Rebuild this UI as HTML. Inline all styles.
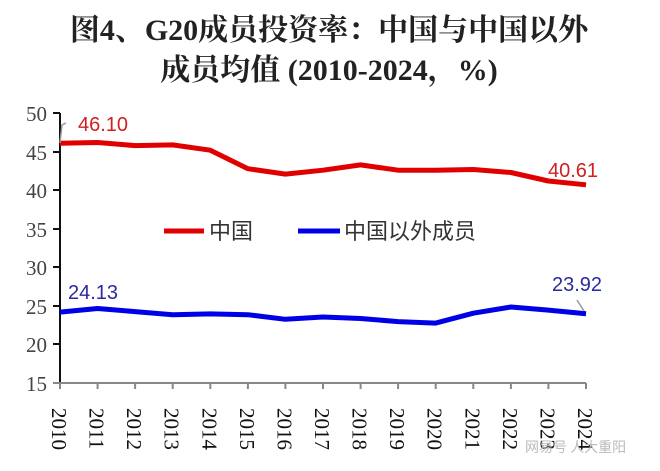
<!DOCTYPE html>
<html><head><meta charset="utf-8"><style>
body{margin:0;background:#fff;width:660px;height:466px;overflow:hidden}
</style></head><body>
<svg width="660" height="466" xmlns="http://www.w3.org/2000/svg">
<text x="329" y="40" text-anchor="middle" font-family="Liberation Serif, Noto Serif CJK SC, serif" font-weight="bold" font-size="30" fill="#222">图4、G20成员投资率：中国与中国以外</text>
<text x="329" y="80" text-anchor="middle" font-family="Liberation Serif, Noto Serif CJK SC, serif" font-weight="bold" font-size="30" fill="#222">成员均值 (2010-2024，%)</text>
<g font-family="Liberation Serif, serif" font-size="21" fill="#444" text-anchor="end">
<text x="47" y="121">50</text><text x="47" y="160">45</text><text x="47" y="198">40</text><text x="47" y="237">35</text><text x="47" y="275">30</text><text x="47" y="314">25</text><text x="47" y="352">20</text><text x="47" y="391">15</text>
</g>
<g stroke="#111" stroke-width="2" fill="none">
<line x1="60" y1="113" x2="60" y2="383"/>
<line x1="53" y1="113" x2="60" y2="113"/><line x1="53" y1="152" x2="60" y2="152"/><line x1="53" y1="190" x2="60" y2="190"/><line x1="53" y1="229" x2="60" y2="229"/><line x1="53" y1="267" x2="60" y2="267"/><line x1="53" y1="306" x2="60" y2="306"/><line x1="53" y1="344" x2="60" y2="344"/>
</g>
<line x1="53" y1="383" x2="586" y2="383" stroke="#888" stroke-width="2"/>
<path stroke="#888" stroke-width="2" d="M60 383v6M97.6 383v6M135.1 383v6M172.7 383v6M210.3 383v6M247.9 383v6M285.4 383v6M323 383v6M360.6 383v6M398.1 383v6M435.7 383v6M473.3 383v6M510.9 383v6M548.4 383v6M586 383v6"/>
<g font-family="Liberation Serif, serif" font-size="21" fill="#111">
<text transform="translate(52,408) rotate(90)">2010</text>
<text transform="translate(89.6,408) rotate(90)">2011</text>
<text transform="translate(127.1,408) rotate(90)">2012</text>
<text transform="translate(164.7,408) rotate(90)">2013</text>
<text transform="translate(202.3,408) rotate(90)">2014</text>
<text transform="translate(239.9,408) rotate(90)">2015</text>
<text transform="translate(277.4,408) rotate(90)">2016</text>
<text transform="translate(315,408) rotate(90)">2017</text>
<text transform="translate(352.6,408) rotate(90)">2018</text>
<text transform="translate(390.1,408) rotate(90)">2019</text>
<text transform="translate(427.7,408) rotate(90)">2020</text>
<text transform="translate(465.3,408) rotate(90)">2021</text>
<text transform="translate(502.9,408) rotate(90)">2022</text>
<text transform="translate(540.4,408) rotate(90)">2023</text>
<text transform="translate(578,408) rotate(90)">2024</text>
</g>
<polyline fill="none" stroke="#e00000" stroke-width="5" stroke-linejoin="round" points="60,143.3 97.6,142.5 135.1,145.6 172.7,144.9 210.3,150.2 247.9,168.7 285.4,174.1 323,170.2 360.6,164.9 398.1,170.2 435.7,170.2 473.3,169.5 510.9,172.5 548.4,181 586,184.8"/>
<polyline fill="none" stroke="#0000e6" stroke-width="5" stroke-linejoin="round" points="60,312.1 97.6,308.5 135.1,311.6 172.7,314.7 210.3,313.9 247.9,314.7 285.4,319.3 323,317 360.6,318.5 398.1,321.6 435.7,323.1 473.3,313.2 510.9,307 548.4,310.1 586,313.8"/>
<path d="M60 143 L62 125 L66 123" stroke="#999" stroke-width="1.5" fill="none"/>
<path d="M577 300 L584 311" stroke="#999" stroke-width="1.5" fill="none"/>
<g font-family="Liberation Sans, sans-serif" font-size="20">
<text x="78" y="131" fill="#d02020">46.10</text>
<text x="548" y="177" fill="#d02020">40.61</text>
<text x="68" y="299" fill="#2a2aa0">24.13</text>
<text x="552" y="291" fill="#2a2aa0">23.92</text>
</g>
<line x1="164" y1="231" x2="204" y2="231" stroke="#e00000" stroke-width="5"/>
<line x1="298" y1="231" x2="340" y2="231" stroke="#0000e6" stroke-width="5"/>
<g font-family="Liberation Sans, Noto Sans CJK SC, sans-serif" font-size="22" fill="#333">
<text x="209" y="239">中国</text>
<text x="344" y="239">中国以外成员</text>
</g>
<text x="525" y="452" font-family="Noto Sans CJK SC, sans-serif" font-size="14" fill="#bbb">网易号 人大重阳</text>
</svg>
</body></html>
